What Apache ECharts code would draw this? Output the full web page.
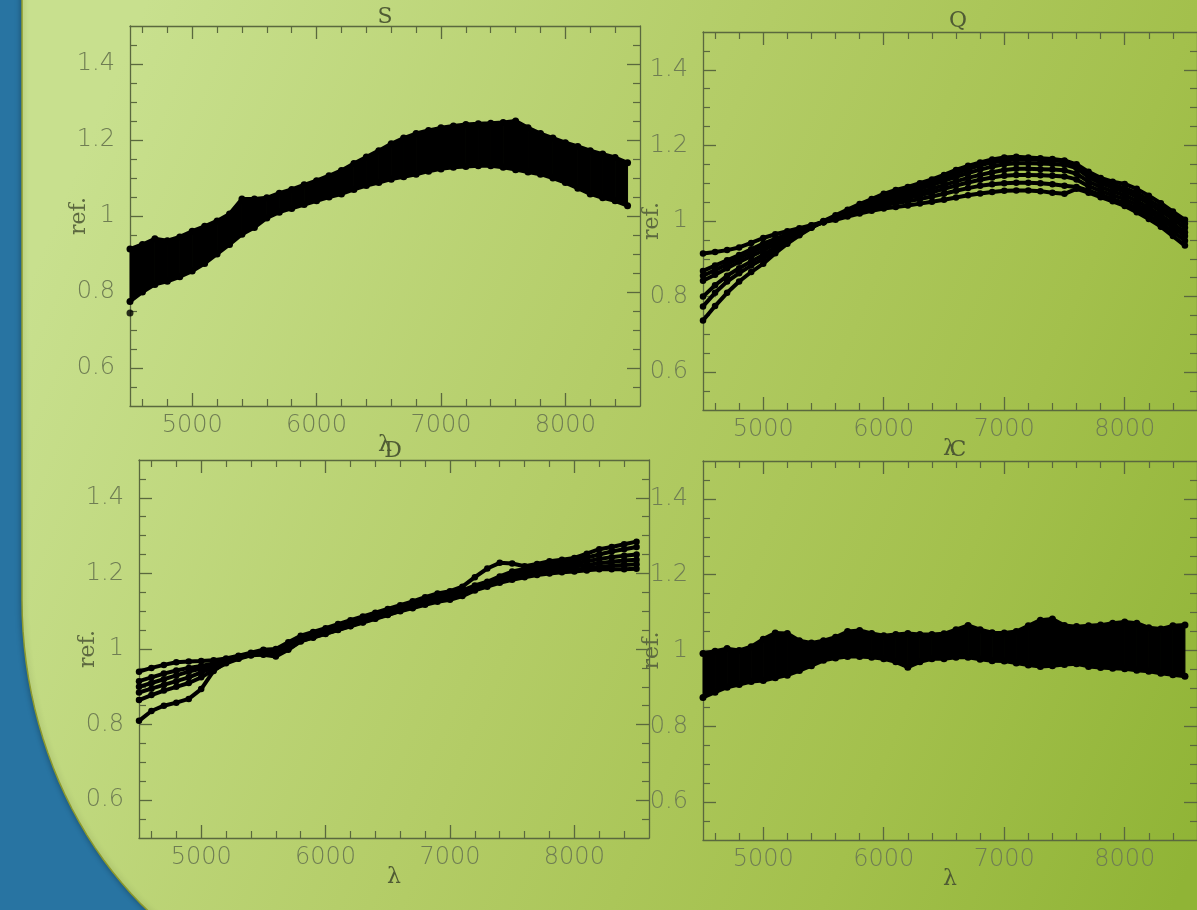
<!DOCTYPE html>
<html><head><meta charset="utf-8">
<script src="https://cdn.jsdelivr.net/npm/echarts@6/dist/echarts.min.js"></script>
<style>html,body{margin:0;padding:0;background:#2874a2;overflow:hidden}#c{width:1197px;height:910px}</style>
</head><body><div id="c"></div>
<script>
// ---------- data ----------
const wavelengths = [4500,4600,4700,4800,4900,5000,5100,5200,5300,5400,5500,5600,5700,5800,5900,6000,6100,6200,6300,6400,6500,6600,6700,6800,6900,7000,7100,7200,7300,7400,7500,7600,7700,7800,7900,8000,8100,8200,8300,8400,8500];
const xMajorTicks = [5000,6000,7000,8000];
const xMinorTicks = [4600,4800,5200,5400,5600,5800,6200,6400,6600,6800,7200,7400,7600,7800,8200,8400,8800];
const yMajorTicks = [0.6,0.8,1,1.2,1.4];
const yMinorTicks = [0.55,0.65,0.7,0.75,0.85,0.9,0.95,1.05,1.1,1.15,1.25,1.3,1.35,1.45];
const panelTitles = ['S','Q','D','C'];

// S : dense band (upper / lower envelope)
const sUpper = [0.913,0.925,0.94,0.935,0.945,0.96,0.973,0.987,1.005,1.045,1.045,1.048,1.06,1.07,1.082,1.093,1.106,1.12,1.138,1.155,1.172,1.19,1.205,1.217,1.225,1.232,1.237,1.241,1.243,1.244,1.246,1.25,1.232,1.217,1.205,1.193,1.183,1.172,1.163,1.154,1.14];
const sLower = [0.775,0.80,0.82,0.828,0.84,0.855,0.875,0.90,0.925,0.952,0.97,0.995,1.01,1.02,1.03,1.04,1.05,1.058,1.07,1.08,1.088,1.097,1.103,1.11,1.118,1.124,1.128,1.13,1.132,1.132,1.128,1.122,1.116,1.11,1.10,1.088,1.073,1.058,1.048,1.04,1.027];
const sOutlier = [[4500,0.745]];

// Q : seven curves
const q1 = [0.914,0.918,0.923,0.93,0.942,0.955,0.965,0.973,0.981,0.989,0.997,1.003,1.012,1.02,1.027,1.033,1.037,1.041,1.046,1.051,1.056,1.062,1.068,1.073,1.077,1.08,1.081,1.081,1.079,1.075,1.072,1.085,1.075,1.063,1.052,1.04,1.023,1.005,0.985,0.96,0.935];
const q2 = [0.868,0.882,0.896,0.91,0.925,0.94,0.953,0.965,0.977,0.988,0.998,1.006,1.016,1.026,1.035,1.042,1.047,1.052,1.058,1.065,1.072,1.08,1.087,1.093,1.097,1.10,1.101,1.101,1.1,1.097,1.093,1.09,1.08,1.07,1.058,1.048,1.033,1.015,0.995,0.972,0.948];
const q3 = [0.855,0.87,0.886,0.902,0.917,0.932,0.947,0.96,0.974,0.986,0.997,1.007,1.018,1.029,1.039,1.048,1.055,1.061,1.068,1.076,1.085,1.094,1.102,1.109,1.115,1.12,1.122,1.122,1.121,1.12,1.118,1.11,1.092,1.08,1.068,1.058,1.043,1.025,1.005,0.983,0.96];
const q4 = [0.842,0.858,0.875,0.892,0.907,0.922,0.94,0.956,0.971,0.985,0.997,1.008,1.02,1.032,1.043,1.053,1.061,1.068,1.076,1.085,1.095,1.105,1.114,1.122,1.129,1.135,1.138,1.138,1.137,1.136,1.134,1.125,1.104,1.09,1.078,1.068,1.053,1.035,1.015,0.993,0.97];
const q5 = [0.80,0.83,0.855,0.875,0.893,0.91,0.93,0.95,0.968,0.984,0.998,1.01,1.023,1.036,1.048,1.059,1.068,1.076,1.085,1.095,1.106,1.117,1.127,1.136,1.144,1.15,1.153,1.153,1.152,1.151,1.149,1.14,1.116,1.1,1.088,1.078,1.064,1.046,1.026,1.005,0.982];
const q6 = [0.774,0.81,0.84,0.862,0.882,0.90,0.923,0.945,0.965,0.983,0.999,1.012,1.026,1.04,1.053,1.065,1.075,1.083,1.093,1.103,1.114,1.126,1.137,1.147,1.155,1.16,1.163,1.163,1.162,1.16,1.158,1.148,1.125,1.108,1.096,1.087,1.074,1.056,1.036,1.015,0.993];
const q7 = [0.737,0.775,0.81,0.84,0.865,0.887,0.915,0.94,0.962,0.982,1.0,1.015,1.03,1.045,1.058,1.072,1.082,1.09,1.1,1.11,1.122,1.135,1.146,1.155,1.163,1.168,1.17,1.168,1.166,1.164,1.16,1.15,1.13,1.114,1.104,1.098,1.085,1.067,1.047,1.025,1.003];

// D : six curves
const d1 = [0.94,0.95,0.958,0.965,0.967,0.968,0.97,0.975,0.982,0.99,0.998,1.0,1.018,1.035,1.045,1.055,1.066,1.076,1.086,1.096,1.106,1.116,1.126,1.137,1.147,1.153,1.165,1.19,1.213,1.228,1.226,1.219,1.225,1.232,1.236,1.241,1.252,1.264,1.27,1.277,1.284];
const d2 = [0.915,0.925,0.935,0.943,0.95,0.955,0.962,0.97,0.98,0.988,0.993,0.995,1.012,1.03,1.04,1.05,1.06,1.07,1.08,1.09,1.1,1.11,1.12,1.13,1.14,1.147,1.155,1.168,1.178,1.192,1.205,1.212,1.22,1.226,1.23,1.234,1.242,1.25,1.258,1.264,1.27];
const d3 = [0.90,0.91,0.92,0.93,0.94,0.948,0.958,0.968,0.978,0.986,0.99,0.99,1.008,1.027,1.037,1.047,1.057,1.067,1.077,1.087,1.097,1.107,1.116,1.126,1.135,1.142,1.15,1.163,1.173,1.186,1.198,1.206,1.213,1.218,1.222,1.226,1.232,1.238,1.243,1.247,1.25];
const d4 = [0.885,0.895,0.905,0.915,0.925,0.938,0.952,0.965,0.976,0.984,0.988,0.987,1.005,1.024,1.034,1.044,1.054,1.064,1.074,1.084,1.094,1.104,1.113,1.122,1.131,1.138,1.146,1.16,1.17,1.182,1.193,1.2,1.206,1.21,1.214,1.218,1.222,1.227,1.231,1.234,1.236];
const d5 = [0.865,0.878,0.89,0.9,0.91,0.925,0.945,0.962,0.974,0.983,0.986,0.983,1.0,1.021,1.031,1.041,1.051,1.061,1.071,1.081,1.091,1.101,1.11,1.119,1.128,1.134,1.143,1.157,1.167,1.178,1.188,1.195,1.2,1.204,1.207,1.21,1.213,1.217,1.22,1.222,1.224];
const d6 = [0.81,0.836,0.85,0.858,0.868,0.894,0.942,0.965,0.975,0.985,0.985,0.98,0.998,1.02,1.03,1.04,1.05,1.06,1.07,1.08,1.09,1.10,1.108,1.117,1.125,1.13,1.14,1.155,1.165,1.175,1.183,1.19,1.196,1.2,1.203,1.205,1.208,1.211,1.211,1.211,1.212];

// C : dense band (upper / lower envelope)
const cUpper = [0.992,0.998,1.005,1.0,1.01,1.03,1.046,1.045,1.026,1.02,1.026,1.035,1.05,1.053,1.045,1.039,1.042,1.045,1.042,1.042,1.044,1.055,1.066,1.055,1.047,1.046,1.05,1.065,1.08,1.083,1.066,1.063,1.065,1.067,1.072,1.075,1.072,1.06,1.057,1.065,1.067];
const cLower = [0.876,0.89,0.903,0.91,0.918,0.921,0.928,0.935,0.947,0.96,0.974,0.98,0.984,0.984,0.982,0.978,0.97,0.956,0.97,0.978,0.978,0.982,0.982,0.977,0.973,0.972,0.967,0.962,0.958,0.96,0.963,0.965,0.958,0.955,0.953,0.952,0.948,0.945,0.94,0.936,0.932];

// ---------- layout ----------
const grids = [
  {left:130, top:26, width:510, height:380},
  {left:703, top:32, width:510, height:378},
  {left:139, top:460, width:510, height:378},
  {left:703, top:461, width:510, height:379}
];
const titlePos = [[385,17],[958,21],[393,451],[958,450]];
const AX = '#5a683e', LBL = '#6f7d53', NAMEC = '#4f5b34';
const fmt = v => String(v);

const xAxes = [], yAxes = [], series = [];
grids.forEach((g, gi) => {
  const xb = {type:'value', gridIndex:gi, min:4500, max:8600, splitLine:{show:false}, axisLabel:{show:false}, axisLine:{show:false, onZero:false}};
  const yb = {type:'value', gridIndex:gi, min:0.5, max:1.5, splitLine:{show:false}, axisLabel:{show:false}, axisLine:{show:false, onZero:false}};
  xAxes.push(Object.assign({}, xb, {position:'bottom', name:'λ', nameLocation:'middle', nameGap:28, nameMoveOverlap:false,
    nameTextStyle:{fontFamily:'DejaVu Serif', fontSize:22, color:NAMEC},
    axisLine:{show:true, onZero:false, lineStyle:{color:AX, width:1.3}},
    axisTick:{show:true, inside:true, length:13, customValues:xMajorTicks, lineStyle:{color:AX, width:1.3}},
    axisLabel:{show:true, customValues:xMajorTicks, formatter:fmt, margin:8, fontFamily:'DejaVu Sans', fontWeight:200, fontSize:24, color:LBL}}));
  xAxes.push(Object.assign({}, xb, {position:'bottom', axisTick:{show:true, inside:true, length:7, customValues:xMinorTicks, lineStyle:{color:AX, width:1.2}}}));
  xAxes.push(Object.assign({}, xb, {position:'top',
    axisLine:{show:true, onZero:false, lineStyle:{color:AX, width:1.3}},
    axisTick:{show:true, inside:true, length:13, customValues:xMajorTicks, lineStyle:{color:AX, width:1.3}}}));
  xAxes.push(Object.assign({}, xb, {position:'top', axisTick:{show:true, inside:true, length:7, customValues:xMinorTicks, lineStyle:{color:AX, width:1.2}}}));
  yAxes.push(Object.assign({}, yb, {position:'left', name:'ref.', nameLocation:'middle', nameGap:40, nameRotate:90, nameMoveOverlap:false,
    nameTextStyle:{fontFamily:'DejaVu Serif', fontSize:22, color:'#5d6940'},
    axisLine:{show:true, onZero:false, lineStyle:{color:AX, width:1.3}},
    axisTick:{show:true, inside:true, length:13, customValues:yMajorTicks, lineStyle:{color:AX, width:1.3}},
    axisLabel:{show:true, customValues:yMajorTicks, formatter:fmt, margin:15, fontFamily:'DejaVu Sans', fontWeight:200, fontSize:24, color:LBL}}));
  yAxes.push(Object.assign({}, yb, {position:'left', axisTick:{show:true, inside:true, length:7, customValues:yMinorTicks, lineStyle:{color:AX, width:1.2}}}));
  yAxes.push(Object.assign({}, yb, {position:'right',
    axisLine:{show:true, onZero:false, lineStyle:{color:AX, width:1.3}},
    axisTick:{show:true, inside:true, length:13, customValues:yMajorTicks, lineStyle:{color:AX, width:1.3}}}));
  yAxes.push(Object.assign({}, yb, {position:'right', axisTick:{show:true, inside:true, length:7, customValues:yMinorTicks, lineStyle:{color:AX, width:1.2}}}));
});

const pts = arr => wavelengths.map((w, i) => [w, arr[i]]);
function curve(gi, arr, width, size) {
  return {type:'line', xAxisIndex:gi*4, yAxisIndex:gi*4, data:pts(arr), symbol:'circle', symbolSize:size||6.5,
    showAllSymbol:true, lineStyle:{color:'#000', width:width||4}, itemStyle:{color:'#000'}, silent:true, z:5};
}
// filled band between two envelopes: each segment is a quad drawn through the axis scales
function band(gi, lower, upper) {
  const rows = [];
  for (let i = 0; i < wavelengths.length - 1; i++)
    rows.push([wavelengths[i], lower[i], upper[i], wavelengths[i+1], lower[i+1], upper[i+1]]);
  const fill = {type:'custom', xAxisIndex:gi*4, yAxisIndex:gi*4, silent:true, z:4, data:rows,
    encode:{x:[0,3], y:[1,2,4,5]},
    renderItem: (params, api) => ({type:'polygon', shape:{points:[
        api.coord([api.value(0), api.value(2)]), api.coord([api.value(3), api.value(5)]),
        api.coord([api.value(3), api.value(4)]), api.coord([api.value(0), api.value(1)])]},
      style:{fill:'#000', stroke:'#000', lineWidth:1}})};
  return [fill, curve(gi, lower, 4, 7), curve(gi, upper, 4, 7)];
}
series.push(...band(0, sLower, sUpper));
series.push({type:'scatter', xAxisIndex:0, yAxisIndex:0, data:sOutlier, symbolSize:7, itemStyle:{color:'#000'}, silent:true});
[q1,q2,q3,q4,q5,q6,q7].forEach(a => series.push(curve(1, a)));
[d1,d2,d3,d4,d5,d6].forEach(a => series.push(curve(2, a)));
series.push(...band(3, cLower, cUpper));

// slide background: green panel with an elliptical lower-left corner
const panelOutline = [[1230,-10],[22,-10],[22,600]];
for (let k = 1; k <= 40; k++) {
  const t = (Math.PI / 2) * k / 40;
  panelOutline.push([362 - 340 * Math.cos(t), 600 + 400 * Math.sin(t)]);
}
panelOutline.push([1230,1000]);
const greenFill = {type:'linear', x:0, y:350, x2:1197, y2:850, global:true, colorStops:[
  {offset:0, color:'#c8e08e'}, {offset:0.45, color:'#b3cc66'}, {offset:0.75, color:'#a3c04c'}, {offset:1, color:'#90b436'}]};
const graphics = [
  {type:'polygon', z:-19, silent:true, shape:{points:panelOutline},
    style:{fill:greenFill, stroke:'#8d9a2c', lineWidth:1.5, shadowBlur:6, shadowColor:'rgba(0,0,0,0.3)'}}
];
panelTitles.forEach((t, i) => graphics.push({type:'text', z:10, silent:true, x:titlePos[i][0], y:titlePos[i][1],
  style:{text:t, fontFamily:'DejaVu Serif', fontSize:22, fill:NAMEC, textAlign:'center', textVerticalAlign:'middle'}}));

const chart = echarts.init(document.getElementById('c'), null, {renderer:'canvas'});
chart.setOption({animation:false, grid:grids, xAxis:xAxes, yAxis:yAxes, series:series, graphic:graphics});
</script></body></html>
